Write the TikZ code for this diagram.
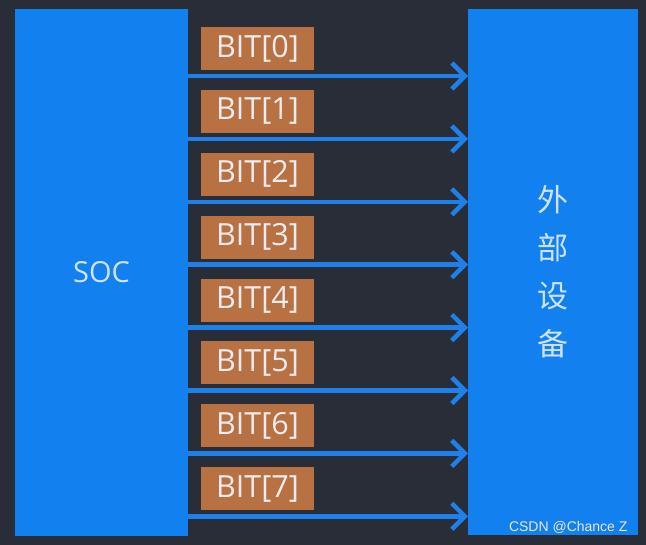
\documentclass[tikz,border=0pt]{standalone}
\usepackage{fontspec}
\setmainfont{Open Sans}
\newfontfamily\cjk{Noto Sans CJK SC}
\newfontfamily\wmfont{Liberation Sans}
\usetikzlibrary{positioning,arrows.meta}
\definecolor{bg}{RGB}{41,45,56}
\definecolor{boxblue}{RGB}{18,128,238}
\definecolor{wireblue}{RGB}{30,128,232}
\definecolor{bitbrown}{RGB}{184,113,66}
\definecolor{textlight}{RGB}{206,226,250}
\definecolor{bittext}{RGB}{236,236,240}
\tikzstyle{signal}=[arrows={-Straight Barb[length=13pt,width=26pt]},draw=wireblue,line width=4.5pt]
\tikzstyle{block}=[fill=boxblue,inner sep=0pt,outer sep=0pt,text=textlight,anchor=north west]
\def\bitwidth{113pt}
\def\bitheight{43pt}
\tikzstyle{bitbox}=[fill=bitbrown,inner sep=0pt,outer sep=0pt,text=bittext,
    font=\fontsize{30.5}{30}\selectfont,
    minimum width=\bitwidth,minimum height=\bitheight]

\begin{document}
\begin{tikzpicture}[x=1pt,y=-1pt]
\fill[bg] (0,0) rectangle (646,545);
\useasboundingbox (0,0) rectangle (646,545);
\node[block, minimum width=173pt, minimum height=527pt,
    font=\fontsize{29}{29}\selectfont] (soc) at (15,9) {SOC};
\node[block, minimum width=170pt, minimum height=526pt, align=center,
    font=\cjk\fontsize{31}{48}\selectfont] (dev) at (468,9) {外\\部\\设\\备};
\foreach \i in {0,...,7} {
    \coordinate (w\i) at (soc.east |- {0,76+62.9*\i});
    \draw[signal] (w\i) -- (w\i -| dev.west);
    \node[bitbox, above right=6pt and 13pt of w\i] (bit\i) {BIT[\i]};
}
\node[anchor=base east, text=white!82!gray, font=\wmfont\fontsize{14}{14}\selectfont] (wm) at (631,532) {CSDN @Chance Z};
\end{tikzpicture}
\end{document}
